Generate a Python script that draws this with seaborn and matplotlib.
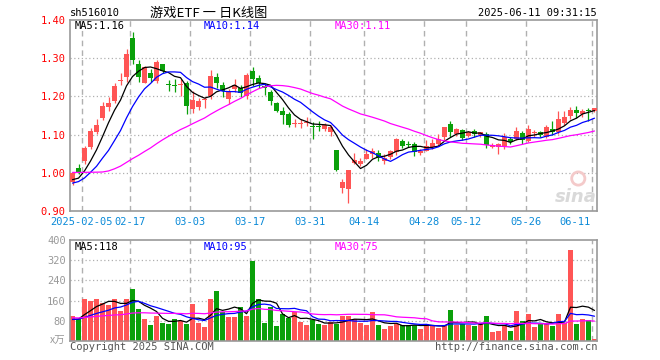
import numpy as np
import pandas as pd
import matplotlib
matplotlib.use('Agg')
import matplotlib.pyplot as plt
import seaborn as sns

# ========== DADOS ==========
dates = ['01-24', '01-27',
         '02-05', '02-06', '02-07', '02-10', '02-11', '02-12', '02-13', '02-14', '02-17', '02-18',
         '02-19', '02-20', '02-21', '02-24', '02-25', '02-26', '02-27', '02-28',
         '03-03', '03-04', '03-05', '03-06', '03-07', '03-10', '03-11', '03-12', '03-13', '03-14',
         '03-17', '03-18', '03-19', '03-20', '03-21', '03-24', '03-25', '03-26', '03-27', '03-28', '03-31',
         '04-01', '04-02', '04-03', '04-07', '04-08', '04-09', '04-10', '04-11', '04-14', '04-15',
         '04-16', '04-17', '04-18', '04-21', '04-22', '04-23', '04-24', '04-25', '04-28', '04-29', '04-30',
         '05-06', '05-07', '05-08', '05-09', '05-12', '05-13', '05-14', '05-15', '05-16', '05-19',
         '05-20', '05-21', '05-22', '05-23', '05-26', '05-27', '05-28', '05-29', '05-30',
         '06-03', '06-04', '06-05', '06-06', '06-09', '06-10', '06-11']

opens = [0.977, 1.012, 1.030, 1.067, 1.106, 1.144, 1.172, 1.188, 1.240, 1.251,
         1.352, 1.286, 1.236, 1.261, 1.240, 1.284, 1.231, 1.231, 1.229, 1.235,
         1.168, 1.171, 1.190, 1.200, 1.250, 1.230, 1.193, 1.219, 1.221, 1.202,
         1.267, 1.248, 1.226, 1.212, 1.182, 1.161, 1.153, 1.127, 1.128, 1.131,
         1.123, 1.123, 1.115, 1.106, 1.060, 0.961, 0.957, 1.025, 1.023, 1.036,
         1.049, 1.052, 1.032, 1.042, 1.054, 1.084, 1.076, 1.075, 1.051, 1.058,
         1.067, 1.075, 1.093, 1.128, 1.102, 1.111, 1.097, 1.109, 1.100, 1.102,
         1.067, 1.068, 1.071, 1.088, 1.089, 1.104, 1.082, 1.103, 1.106, 1.095,
         1.115, 1.106, 1.130, 1.150, 1.165, 1.153, 1.165, 1.161]
highs = [1.003, 1.023, 1.071, 1.118, 1.141, 1.185, 1.198, 1.235, 1.260, 1.323,
         1.368, 1.296, 1.279, 1.273, 1.296, 1.286, 1.242, 1.245, 1.245, 1.240,
         1.215, 1.195, 1.198, 1.270, 1.260, 1.238, 1.220, 1.246, 1.229, 1.260,
         1.277, 1.255, 1.234, 1.218, 1.186, 1.172, 1.159, 1.141, 1.141, 1.147,
         1.132, 1.135, 1.130, 1.124, 1.060, 0.985, 1.008, 1.051, 1.040, 1.062,
         1.065, 1.060, 1.049, 1.060, 1.091, 1.089, 1.082, 1.080, 1.061, 1.086,
         1.089, 1.102, 1.119, 1.135, 1.118, 1.115, 1.109, 1.114, 1.108, 1.106,
         1.077, 1.077, 1.104, 1.094, 1.119, 1.109, 1.126, 1.113, 1.109, 1.124,
         1.135, 1.161, 1.161, 1.172, 1.176, 1.168, 1.170, 1.170]
lows = [0.968, 0.998, 1.023, 1.062, 1.102, 1.137, 1.163, 1.182, 1.229, 1.237,
        1.286, 1.238, 1.234, 1.238, 1.235, 1.262, 1.214, 1.212, 1.200, 1.155,
        1.156, 1.165, 1.170, 1.194, 1.222, 1.198, 1.180, 1.211, 1.198, 1.194,
        1.228, 1.222, 1.203, 1.177, 1.158, 1.128, 1.121, 1.119, 1.117, 1.123,
        1.089, 1.109, 1.110, 1.097, 1.004, 0.948, 0.922, 1.023, 1.018, 1.036,
        1.040, 1.030, 1.023, 1.036, 1.047, 1.065, 1.067, 1.045, 1.047, 1.056,
        1.062, 1.071, 1.086, 1.093, 1.097, 1.086, 1.093, 1.095, 1.095, 1.065,
        1.065, 1.049, 1.062, 1.075, 1.086, 1.075, 1.080, 1.094, 1.094, 1.091,
        1.100, 1.102, 1.124, 1.141, 1.144, 1.146, 1.135, 1.160]
closes = [1.000, 1.000, 1.065, 1.109, 1.126, 1.174, 1.182, 1.228, 1.242, 1.312,
          1.296, 1.251, 1.277, 1.249, 1.290, 1.267, 1.229, 1.228, 1.231, 1.175,
          1.190, 1.188, 1.193, 1.254, 1.235, 1.215, 1.215, 1.230, 1.210, 1.256,
          1.245, 1.235, 1.222, 1.188, 1.162, 1.152, 1.126, 1.129, 1.130, 1.133,
          1.121, 1.121, 1.124, 1.119, 1.007, 0.977, 1.007, 1.033, 1.032, 1.049,
          1.056, 1.040, 1.040, 1.058, 1.089, 1.071, 1.074, 1.054, 1.058, 1.071,
          1.077, 1.089, 1.119, 1.106, 1.115, 1.091, 1.106, 1.102, 1.106, 1.074,
          1.074, 1.075, 1.095, 1.080, 1.109, 1.086, 1.115, 1.105, 1.100, 1.121,
          1.106, 1.141, 1.147, 1.165, 1.156, 1.161, 1.163, 1.170]
volumes = [100, 89, 167, 159, 167, 149, 143, 167, 119, 167,
           207, 127, 87, 63, 100, 72, 67, 87, 80, 67,
           147, 72, 56, 167, 199, 113, 96, 96, 136, 99,
           316, 167, 72, 133, 60, 105, 92, 113, 76, 65,
           83, 67, 65, 75, 69, 100, 99, 89, 72, 63,
           113, 63, 49, 59, 67, 65, 63, 63, 49, 69,
           65, 53, 59, 123, 63, 67, 63, 59, 73, 99,
           36, 39, 63, 39, 119, 79, 105, 56, 67, 73,
           60, 105, 72, 359, 67, 87, 85, 7]

# dias anteriores a janela (so para as medias moveis)
pre_close = [1.00, 1.06, 1.10, 1.12, 1.16, 1.10, 1.06, 1.03, 1.02, 1.00,
             0.99, 0.98, 0.97, 0.96, 0.96, 0.95, 0.96, 0.97, 0.96, 0.95,
             0.96, 0.97, 0.96, 0.97, 0.96, 0.98, 0.97, 0.98, 0.98]
pre_volume = [110, 95, 120, 90, 85, 100, 105, 95, 80, 90,
              100, 85, 95, 110, 90, 80, 85, 95, 100, 90,
              85, 95, 80, 90, 85, 80, 78, 82, 85]

tick_dates = ['02-05', '02-17', '03-03', '03-17', '03-31', '04-14', '04-28', '05-12', '05-26', '06-11']
tick_labels = ['2025-02-05', '02-17', '03-03', '03-17', '03-31', '04-14', '04-28', '05-12', '05-26', '06-11']
price_ticks = [0.90, 1.00, 1.10, 1.20, 1.30, 1.40]
vol_ticks = [80, 160, 240, 320, 400]
price_ma_text = ['MA5:1.16', 'MA10:1.14', 'MA30:1.11']
vol_ma_text = ['MA5:118', 'MA10:95', 'MA30:75']

# ========== ESTILO ==========
sns.set_theme(style='white')
plt.rcParams['font.family'] = ['DejaVu Sans Mono', 'Noto Sans CJK SC', 'DejaVu Sans']

RED = '#ff5555'
GREEN = '#0aa00a'
GRID = '#b0b0b0'
ma_colors = ['black', '#0000ff', '#ff00ff']
ma_windows = [5, 10, 30]

x = np.arange(len(dates))
o = np.array(opens)
c = np.array(closes)
cores = np.where(c >= o, RED, GREEN)
tick_pos = [dates.index(d) for d in tick_dates]

W, H = 660, 360
fig = plt.figure(figsize=(6.6, 3.6), dpi=100)
fig.patch.set_facecolor('white')
ax1 = fig.add_axes([70 / W, 1 - 211 / H, 527 / W, 191 / H])
ax2 = fig.add_axes([70 / W, 1 - 341 / H, 527 / W, 101 / H])

for ax in (ax1, ax2):
    ax.set_xlim(-0.42, len(dates) - 0.58)
    ax.set_facecolor('white')
    for s in ax.spines.values():
        s.set_color('#999999')
        s.set_linewidth(1.2)
    ax.set_xticks([])
    for p in tick_pos:
        ax.axvline(p - 0.42, color=GRID, lw=1, ls=(0, (4, 3)), zorder=0)

# ========== PAINEL DE PRECO ==========
ax1.set_ylim(0.90, 1.40)
ax1.set_yticks(price_ticks)
ax1.set_yticklabels([f'{t:.2f}' for t in price_ticks])
ax1.tick_params(axis='y', length=0, pad=3, labelcolor='red', labelsize=7.5)
for t in price_ticks[1:-1]:
    ax1.axhline(t, color=GRID, lw=0.9, ls=(0, (1, 2)), zorder=0)

ax1.vlines(x, lows, highs, colors=cores, lw=0.9, zorder=2)
ax1.bar(x, np.maximum(np.abs(c - o), 0.0026), bottom=np.minimum(o, c),
        width=0.8, color=cores, lw=0, zorder=3)

full_close = pd.Series(pre_close + closes)
for n, cor in zip(ma_windows, ma_colors):
    ma = full_close.rolling(n).mean().iloc[len(pre_close):].to_numpy()
    sns.lineplot(x=x, y=ma, ax=ax1, color=cor, lw=0.9, zorder=4)

for txt, cor, px in zip(price_ma_text, ma_colors, [75, 204, 335]):
    ax1.text((px - 70) / 527, (211 - 26) / 191, txt, transform=ax1.transAxes,
             color=cor, fontsize=7.5, va='center', ha='left')

# datas
for p, lab in zip(tick_pos, tick_labels):
    ha = 'right' if p == tick_pos[-1] else 'center'
    xp = p - 0.42 - (0.3 if ha == 'right' else 0)
    ax1.text(xp, -11 / 191, lab, transform=ax1.get_xaxis_transform(),
             color='#0a8ad8', fontsize=7.5, ha=ha, va='center')

# marca d'agua
ax1.scatter([84.3], [0.985], s=90, facecolors='none', edgecolors='#f4caca',
            linewidths=2, zorder=1)
ax1.text(1.0, (211 - 197) / 191, 'sina', transform=ax1.transAxes,
         color='#d9d9d9', fontsize=13, fontweight='bold', style='italic',
         ha='right', va='center', family='DejaVu Sans', zorder=1)

# ========== PAINEL DE VOLUME ==========
ax2.set_ylim(0, 400)
ax2.set_yticks(vol_ticks)
ax2.set_yticklabels([str(t) for t in vol_ticks])
ax2.tick_params(axis='y', length=0, pad=3, labelcolor='#999999', labelsize=7.5)
for t in vol_ticks[:-1]:
    ax2.axhline(t, color=GRID, lw=0.9, ls=(0, (1, 2)), zorder=0)

ax2.bar(x, volumes, width=0.8, color=cores, lw=0, zorder=2)

full_vol = pd.Series(pre_volume + volumes, dtype=float)
for n, cor in zip(ma_windows, ma_colors):
    ma = full_vol.rolling(n).mean().iloc[len(pre_volume):].to_numpy()
    sns.lineplot(x=x, y=ma, ax=ax2, color=cor, lw=0.9, zorder=4)

for txt, cor, px in zip(vol_ma_text, ma_colors, [75, 204, 335]):
    ax2.text((px - 70) / 527, (341 - 247) / 101, txt, transform=ax2.transAxes,
             color=cor, fontsize=7.5, va='center', ha='left')

ax2.text(-5 / 527, 0, 'x万', transform=ax2.transAxes, color='#999999',
         fontsize=7.5, ha='right', va='center', family=['Noto Sans CJK SC'])

# ========== TEXTOS ==========
fig.text(70 / W, 1 - 13 / H, 'sh516010', fontsize=7.5, color='black', va='center')
fig.text(209 / W, 1 - 13 / H, '游戏ETF 一 日K线图', fontsize=9.5, color='black',
         ha='center', va='center', family=['Noto Sans CJK SC', 'DejaVu Sans'])
fig.text(597 / W, 1 - 13 / H, '2025-06-11 09:31:15', fontsize=7.5, color='black',
         ha='right', va='center')
fig.text(70 / W, 1 - 347 / H, 'Copyright 2025 SINA.COM', fontsize=7.5,
         color='#555555', va='center')
fig.text(597 / W, 1 - 347 / H, 'http://finance.sina.com.cn', fontsize=7.5,
         color='#555555', ha='right', va='center')

fig.savefig('out.png', dpi=100, facecolor='white')
